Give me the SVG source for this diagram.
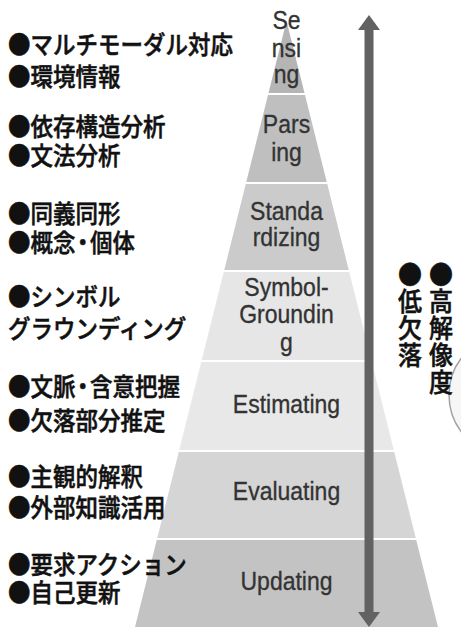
<svg xmlns="http://www.w3.org/2000/svg" width="461" height="628" viewBox="0 0 461 628">
<style>
.lbl{font-family:"Liberation Sans",Arial,sans-serif;font-size:23px;fill:#333;stroke:#333;stroke-width:0.3px;text-anchor:middle}
.jp{font-family:"Noto Sans CJK JP","Noto Sans CJK SC",sans-serif;font-size:22.5px;font-weight:500;fill:#111;stroke:#111;stroke-width:0.5px}
.vj{font-family:"Noto Sans CJK JP","Noto Sans CJK SC",sans-serif;font-size:24px;font-weight:500;fill:#111;stroke:#111;stroke-width:0.5px;writing-mode:vertical-rl;letter-spacing:1px}
.arrow{fill:#626262}
</style>
<rect width="461" height="628" fill="#ffffff"/>
<g id="side-circle"><circle cx="510" cy="395" r="61" fill="#f6f6f6" stroke="#a0a0a0" stroke-width="1.5"/></g>
<g id="sensing">
<polygon points="286.5,21 304.5,93 268.5,93" fill="#b5b5b5"/>
<text class="lbl" transform="translate(286.5,29) scale(1,1.15)"><tspan x="0" y="0">Se</tspan><tspan x="0" dy="24.3">nsi</tspan><tspan x="0" dy="22.6">ng</tspan></text>
<text class="jp" transform="translate(8,54) scale(1,1.12)"><tspan x="0" y="0">●マルチモーダル対応</tspan><tspan x="0" dy="28.6">●環境情報</tspan></text>
</g>
<g id="parsing">
<polygon points="268,95 305,95 326.75,182 246.25,182" fill="#bfbfbf"/>
<text class="lbl" transform="translate(286.5,133) scale(1,1.15)"><tspan x="0" y="0">Pars</tspan><tspan x="0" dy="24.3">ing</tspan></text>
<text class="jp" transform="translate(8,136) scale(1,1.12)"><tspan x="0" y="0">●依存構造分析</tspan><tspan x="0" dy="25.9">●文法分析</tspan></text>
</g>
<g id="standardizing">
<polygon points="245.75,184 327.25,184 348.75,270 224.25,270" fill="#cbcbcb"/>
<text class="lbl" transform="translate(286.5,220) scale(1,1.15)"><tspan x="0" y="0">Standa</tspan><tspan x="0" dy="22.6">rdizing</tspan></text>
<text class="jp" transform="translate(8,223) scale(1,1.12)"><tspan x="0" y="0">●同義同形</tspan><tspan x="0" dy="25.9">●概念</tspan><tspan dx="-4">・</tspan><tspan dx="-4">個体</tspan></text>
</g>
<g id="symbol-grounding">
<polygon points="223.75,272 349.25,272 371.25,360 201.75,360" fill="#e6e6e6"/>
<text class="lbl" transform="translate(286.5,296) scale(1,1.15)"><tspan x="0" y="0">Symbol-</tspan><tspan x="0" dy="23.5">Groundin</tspan><tspan x="0" dy="24.3">g</tspan></text>
<text class="jp" transform="translate(8,306) scale(1,1.12)"><tspan x="0" y="0">●シンボル</tspan><tspan x="0" dy="28.6">グラウンディング</tspan></text>
</g>
<g id="estimating">
<polygon points="201.25,362 371.75,362 393.75,450 179.25,450" fill="#e8e8e8"/>
<text class="lbl" transform="translate(286.5,413) scale(1,1.15)">Estimating</text>
<text class="jp" transform="translate(8,396) scale(1,1.12)"><tspan x="0" y="0">●文脈</tspan><tspan dx="-4">・</tspan><tspan dx="-4">含意把握</tspan><tspan x="0" dy="30.4">●欠落部分推定</tspan></text>
</g>
<g id="evaluating">
<polygon points="178.75,452 394.25,452 415.75,538 157.25,538" fill="#d5d5d5"/>
<text class="lbl" transform="translate(286.5,500) scale(1,1.15)">Evaluating</text>
<text class="jp" transform="translate(8,486) scale(1,1.12)"><tspan x="0" y="0">●主観的解釈</tspan><tspan x="0" dy="27.7">●外部知識活用</tspan></text>
</g>
<g id="updating">
<polygon points="156.75,540 416.25,540 438,627 135,627" fill="#c3c3c3"/>
<text class="lbl" transform="translate(286.5,590) scale(1,1.15)">Updating</text>
<text class="jp" transform="translate(8,574) scale(1,1.12)"><tspan x="0" y="0">●要求アクション</tspan><tspan x="0" dy="25">●自己更新</tspan></text>
</g>
<g id="connectors">
<rect class="arrow" x="364.5" y="28" width="9" height="586"/>
<polygon class="arrow" points="369,15 380,30 358,30"/>
<polygon class="arrow" points="369,627 380,612 358,612"/>
</g>
<g id="axis-labels">
<text class="vj" transform="translate(441,261) scale(1,1.08)">●高解像度</text>
<text class="vj" transform="translate(410,261) scale(1,1.08)">●低欠落</text>
</g>
</svg>
